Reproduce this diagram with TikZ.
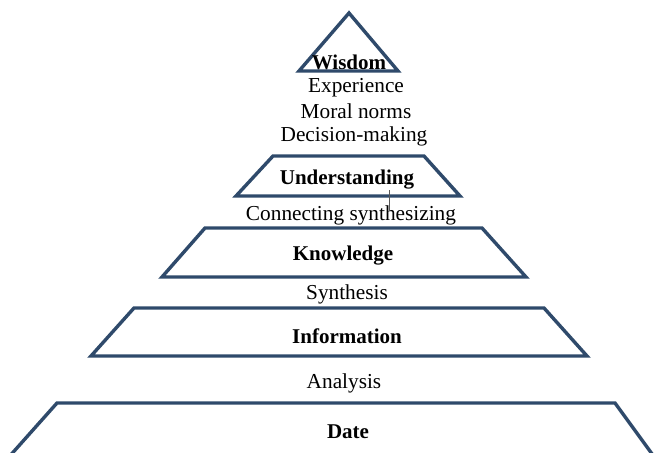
\documentclass[tikz,border=0pt]{standalone}
\usepackage{fontspec}
\setmainfont{Liberation Serif}
\definecolor{pyr}{HTML}{2F4A6B}
\begin{document}
\begin{tikzpicture}[x=1pt,y=-1pt,
  tier/.style={draw=pyr,line width=3.4pt,line join=miter},
  lbl/.style={font=\fontsize{21}{24}\selectfont\bfseries,inner sep=0pt},
  txt/.style={font=\fontsize{21.3}{24}\selectfont,inner sep=0pt}]
\useasboundingbox (0,0) rectangle (655,452);
\clip (0,0) rectangle (655,452);
\fill[white] (0,0) rectangle (655,452);
% tiers
\draw[tier] (349,13) -- (398,71) -- (299,71) -- cycle;
\draw[tier] (273,156) -- (424,156) -- (460,196) -- (236,196) -- cycle;
\draw[tier] (205,228) -- (482,228) -- (526,277) -- (162,277) -- cycle;
\draw[tier] (134,308) -- (544,308) -- (587,356) -- (91,356) -- cycle;
\draw[tier] (57,403) -- (615,403) -- (655,458) -- (8,458) -- cycle;
% labels
\node[lbl] (wis) at (349,62) {Wisdom};
\node[txt] (exp) at (356,88) {Experience};
\node[txt] (mor) at (356,111) {Moral norms};
\node[txt] (dec) at (354,136) {Decision-making};
\node[lbl] (und) at (347,180) {Understanding};
\node[txt] (con) at (351,215) {Connecting synthesizing};
\node[lbl] (kno) at (343,256) {Knowledge};
\node[txt] (syn) at (347,294) {Synthesis};
\node[lbl] (inf) at (347,336) {Information};
\node[txt] (ana) at (344,383) {Analysis};
\node[lbl] (dat) at (348,432) {Date};
\coordinate (tk) at (389,190);
\draw[gray!70!black,line width=0.6pt] (tk) -- ++(0,21);
\end{tikzpicture}
\end{document}
